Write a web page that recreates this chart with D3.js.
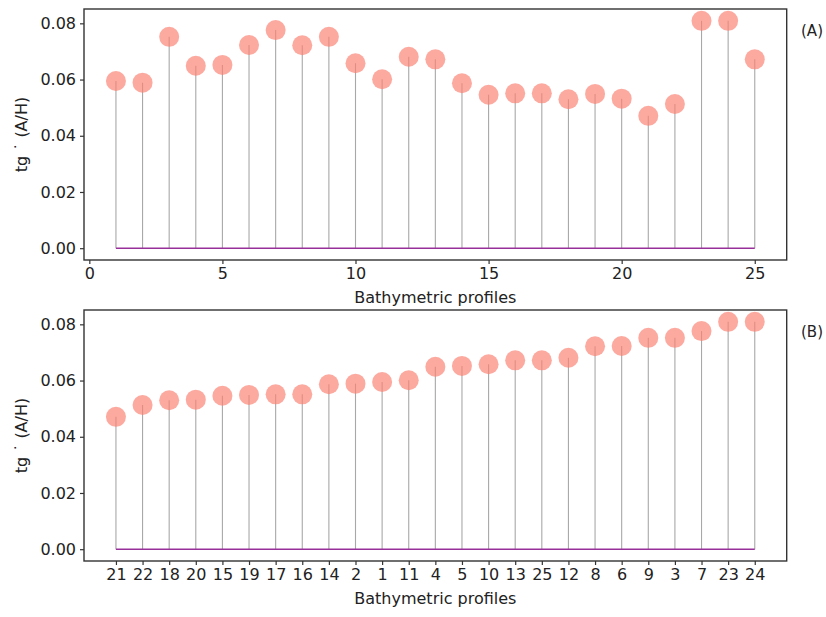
<!DOCTYPE html>
<html>
<head>
<meta charset="utf-8">
<script src="https://cdn.jsdelivr.net/npm/d3@7"></script>
<style>
  body { margin: 0; background: #fff; }
  text { font-family: "DejaVu Sans", sans-serif; fill: #222; }
</style>
</head>
<body>
<svg id="chart" width="826" height="617"></svg>
<script>
// Data
const profiles = [1,2,3,4,5,6,7,8,9,10,11,12,13,14,15,16,17,18,19,20,21,22,23,24,25];
const tgValues = [0.0595,0.0589,0.0752,0.0649,0.0652,0.0723,0.0776,0.0722,0.0752,0.0658,
                  0.0601,0.0681,0.0672,0.0587,0.0546,0.0551,0.0551,0.0530,0.0549,0.0532,
                  0.0471,0.0513,0.0809,0.0809,0.0672];
const sortedProfiles = [21,22,18,20,15,19,17,16,14,2,1,11,4,5,10,13,25,12,8,6,9,3,7,23,24];
const yTicks = [0.00,0.02,0.04,0.06,0.08];
const xTicksA = [0,5,10,15,20,25];
const panelLabels = ["(A)","(B)"];
const xLabel = "Bathymetric profiles";
const yLabel = "tg \u02D9 (A/H)";

const valueOf = new Map(profiles.map((p,i)=>[p,tgValues[i]]));
const sortedValues = sortedProfiles.map(p=>valueOf.get(p));

const svg = d3.select("#chart");
const L = 84, R = 786.7;
const panels = [{top:9, bottom:260}, {top:310, bottom:561}];
const yDomain = [-0.0042, 0.0851];

const stemColor = "#a8a8a8", baseColor = "#98309a", markerFill = "#fa8072";

function drawPanel(idx, xs, ys, xScale, tickVals, tickFmt) {
  const p = panels[idx];
  const y = d3.scaleLinear().domain(yDomain).range([p.bottom, p.top]);
  const g = svg.append("g");

  // stems
  g.selectAll("line.stem").data(xs).enter().append("line")
    .attr("x1",(d)=>xScale(d)).attr("x2",(d)=>xScale(d))
    .attr("y1",y(0)).attr("y2",(d,i)=>y(ys[i]))
    .attr("stroke",stemColor).attr("stroke-width",1.1);
  // baseline
  g.append("line")
    .attr("x1",xScale(xs[0])).attr("x2",xScale(xs[xs.length-1]))
    .attr("y1",y(0)).attr("y2",y(0))
    .attr("stroke",baseColor).attr("stroke-width",1.6);
  // markers
  g.selectAll("circle").data(xs).enter().append("circle")
    .attr("cx",(d)=>xScale(d)).attr("cy",(d,i)=>y(ys[i]))
    .attr("r",10).attr("fill",markerFill).attr("fill-opacity",0.68);

  // axes
  const yAxis = d3.axisLeft(y).tickValues(yTicks).tickFormat(d3.format(".2f")).tickSizeOuter(0).tickSize(4).tickPadding(4);
  const ya = svg.append("g").attr("transform",`translate(${L},0)`).call(yAxis);
  const xAxis = d3.axisBottom(xScale).tickValues(tickVals).tickFormat(tickFmt).tickSizeOuter(0).tickSize(4).tickPadding(4);
  const xa = svg.append("g").attr("transform",`translate(0,${p.bottom})`).call(xAxis);
  [ya,xa].forEach(a=>{
    a.select(".domain").remove();
    a.selectAll(".tick line").attr("stroke","#333").attr("stroke-width",1.2);
    a.selectAll(".tick text").style("font-size","16px").style("font-family","DejaVu Sans, sans-serif").attr("fill","#222");
  });

  // frame
  svg.append("rect").attr("x",L).attr("y",p.top).attr("width",R-L).attr("height",p.bottom-p.top)
    .attr("fill","none").attr("stroke","#333").attr("stroke-width",1.4);

  // labels
  svg.append("text").attr("x",(L+R)/2).attr("y",p.bottom+43)
    .attr("text-anchor","middle").style("font-size","16px").text(xLabel);
  const cy = (p.top+p.bottom)/2;
  svg.append("text").attr("transform",`translate(27,${cy}) rotate(-90)`)
    .attr("text-anchor","middle").style("font-size","16px").text(yLabel);
  svg.append("text").attr("x",812).attr("y",p.top+27)
    .attr("text-anchor","middle").style("font-size","15px").text(panelLabels[idx]);
}

// Panel A: numeric x
const xA = d3.scaleLinear().domain([-0.2, 26.2]).range([L, R]);
drawPanel(0, profiles, tgValues, xA, xTicksA, d3.format("d"));

// Panel B: categorical x (sorted)
const xB = d3.scalePoint().domain(sortedProfiles).range([L + 1.2*(R-L)/26.4, R - 1.2*(R-L)/26.4]);
drawPanel(1, sortedProfiles, sortedValues, xB, sortedProfiles, d=>d);
</script>
</body>
</html>
